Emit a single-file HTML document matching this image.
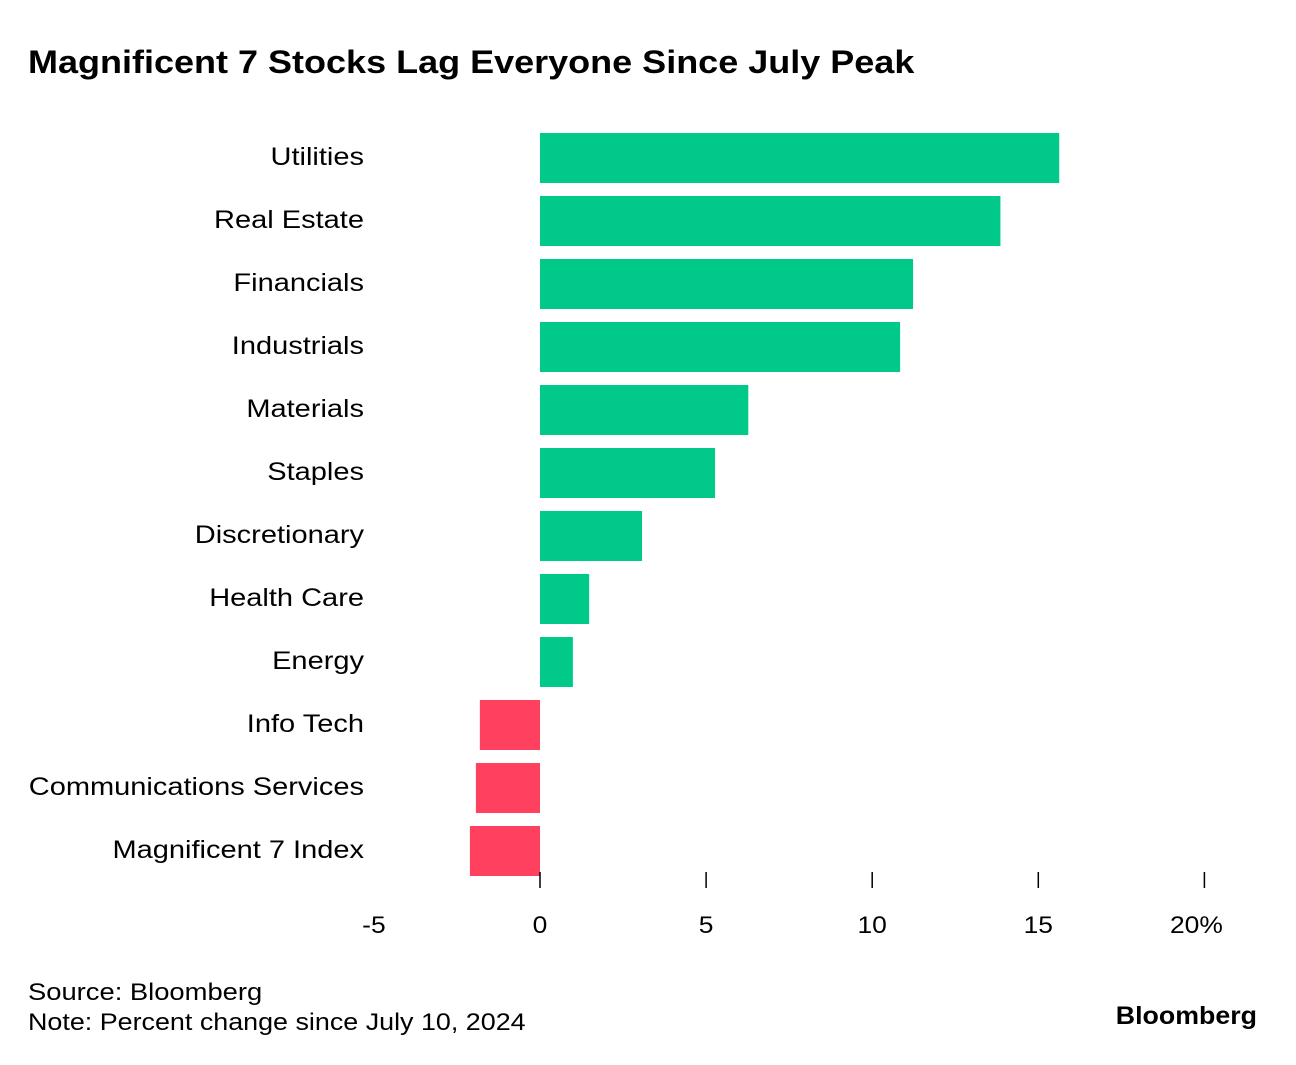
<!DOCTYPE html>
<html><head><meta charset="utf-8"><style>
body{margin:0;background:#fff;width:1296px;height:1060px;overflow:hidden;font-family:"Liberation Sans",sans-serif;}
</style></head><body>
<svg width="1296" height="1060">
<text class="st" data-f="1.125" x="28" y="73" font-size="32" font-weight="bold" fill="#000">Magnificent 7 Stocks Lag Everyone Since July Peak</text>
<g id="bars"></g>
<g id="axis"></g>
<text class="st" data-f="1.14" x="28" y="1000" font-size="24" fill="#000">Source: Bloomberg</text>
<text class="st" data-f="1.12" x="28" y="1030" font-size="24" fill="#000">Note: Percent change since July 10, 2024</text>
<text class="st" data-f="1.07" x="1257" y="1024" font-size="25" font-weight="bold" text-anchor="end" fill="#000">Bloomberg</text>
</svg>
<script>
const categories=["Utilities","Real Estate","Financials","Industrials","Materials","Staples","Discretionary","Health Care","Energy","Info Tech","Communications Services","Magnificent 7 Index"];
const values=[15.63,13.86,11.23,10.84,6.27,5.27,3.07,1.48,0.99,-1.81,-1.93,-2.11];
const ticks=[0,5,10,15,20];
const tickLabelValues=[-5,0,5,10,15,20];
const tickLabels=["-5","0","5","10","15","20%"];
const NS="http://www.w3.org/2000/svg";
const x=v=>540+v*33.22;
const y=i=>133+i*63;
const bars=document.getElementById('bars'),axis=document.getElementById('axis');
function mk(tag,attrs,parent){const e=document.createElementNS(NS,tag);for(const k in attrs)e.setAttribute(k,attrs[k]);parent.appendChild(e);return e;}
categories.forEach((c,i)=>{
  const v=values[i];
  const r=mk('rect',{x:Math.min(x(0),x(v)),y:y(i),width:Math.abs(x(v)-x(0)),height:50,fill:v>=0?'#00c98a':'#ff405f'},bars);
  
  
  const t=mk('text',{x:364,y:y(i)+32,'font-size':25,'text-anchor':'end',fill:'#000',class:'st','data-f':'1.16'},bars);
  t.textContent=c;
  
  
});
ticks.forEach(tk=>{
  const l=mk('line',{x1:x(tk),x2:x(tk),y1:872,y2:888,stroke:'#000','stroke-width':1.5},axis);
  
  
});
tickLabelValues.forEach((tk,i)=>{
  const t=mk('text',{x:x(tk)+(i==tickLabelValues.length-1?-8:0),y:933,'font-size':24,'text-anchor':'middle',fill:'#000',class:'st','data-f':'1.1'},axis);
  t.textContent=tickLabels[i];
  
  
});
document.querySelectorAll('.st').forEach(t=>{
  const w=t.getComputedTextLength()*parseFloat(t.getAttribute('data-f'));
  t.setAttribute('textLength',w);
  t.setAttribute('lengthAdjust','spacingAndGlyphs');
});
</script>
</body></html>
